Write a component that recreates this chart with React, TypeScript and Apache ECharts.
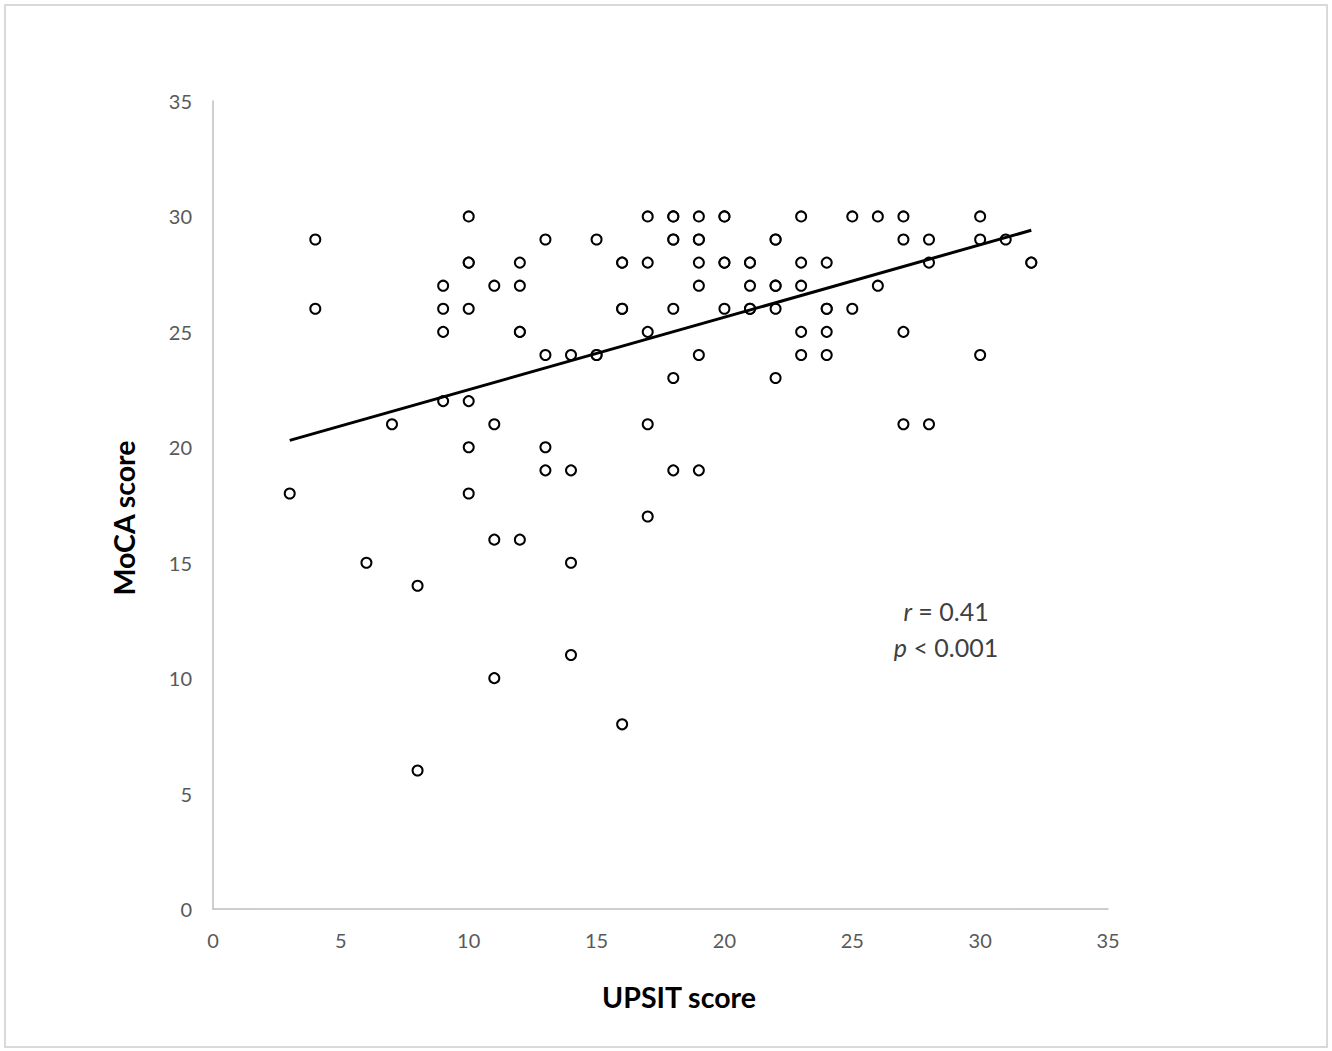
import React, { useEffect, useRef } from "react";
import * as echarts from "echarts";

// UPSIT score (x) vs MoCA score (y)
const upsit: number[] = [
  3, 4, 4, 6, 7, 8, 8,
  9, 9, 9, 9,
  10, 10, 10, 10, 10, 10, 10,
  11, 11, 11, 11,
  12, 12, 12, 12, 12,
  13, 13, 13, 13,
  14, 14, 14, 14,
  15, 15, 15,
  16, 16, 16, 16, 16,
  17, 17, 17, 17, 17,
  18, 18, 18, 18, 18, 18, 18,
  19, 19, 19, 19, 19, 19, 19,
  20, 20, 20, 20, 20,
  21, 21, 21, 21, 21,
  22, 22, 22, 22, 22, 22,
  23, 23, 23, 23, 23,
  24, 24, 24, 24, 24,
  25, 25,
  26, 26,
  27, 27, 27, 27,
  28, 28, 28,
  30, 30, 30,
  31,
  32, 32,
];
const moca: number[] = [
  18, 29, 26, 15, 21, 14, 6,
  27, 26, 25, 22,
  30, 28, 28, 26, 22, 20, 18,
  27, 21, 16, 10,
  28, 27, 25, 25, 16,
  29, 24, 20, 19,
  24, 19, 15, 11,
  29, 24, 24,
  28, 28, 26, 26, 8,
  30, 28, 25, 21, 17,
  30, 30, 29, 29, 26, 23, 19,
  30, 29, 29, 28, 27, 24, 19,
  30, 30, 28, 28, 26,
  28, 28, 27, 26, 26,
  29, 29, 27, 27, 26, 23,
  30, 28, 27, 25, 24,
  28, 26, 26, 25, 24,
  30, 26,
  30, 27,
  30, 29, 25, 21,
  29, 28, 21,
  30, 29, 24,
  29,
  28, 28,
];

// Trend line end points
const trendX: number[] = [3, 32];
const trendY: number[] = [20.3, 29.4];

const xTicks: number[] = [0, 5, 10, 15, 20, 25, 30, 35];
const yTicks: number[] = [0, 5, 10, 15, 20, 25, 30, 35];

const xTitle = "UPSIT score";
const yTitle = "MoCA score";
const statR = "0.41";
const statP = "0.001";

export default function App() {
  const ref = useRef<HTMLDivElement>(null);

  useEffect(() => {
    document.body.style.margin = "0";
    if (!ref.current) return;
    const chart = echarts.init(ref.current, undefined, { renderer: "svg" });
    const points = upsit.map((x, i) => [x, moca[i]]);
    const trend = trendX.map((x, i) => [x, trendY[i]]);
    const labelColor = "#595959";
    const font = "Lato, 'Open Sans', sans-serif";

    chart.setOption({
      animation: false,
      backgroundColor: "#ffffff",
      grid: { left: 213, top: 101, width: 895, height: 808, containLabel: false },
      xAxis: {
        type: "value",
        min: xTicks[0],
        max: xTicks[xTicks.length - 1],
        interval: 5,
        axisLine: { show: true, lineStyle: { color: "#bfbfbf", width: 1.5 } },
        axisTick: { show: false },
        splitLine: { show: false },
        axisLabel: { color: labelColor, fontSize: 20, fontFamily: font, margin: 21 },
      },
      yAxis: {
        type: "value",
        min: yTicks[0],
        max: yTicks[yTicks.length - 1],
        interval: 5,
        axisLine: { show: true, lineStyle: { color: "#bfbfbf", width: 1.5 } },
        axisTick: { show: false },
        splitLine: { show: false },
        axisLabel: { color: labelColor, fontSize: 20, fontFamily: font, margin: 21 },
      },
      series: [
        {
          type: "line",
          data: trend,
          symbol: "none",
          lineStyle: { color: "#000000", width: 3 },
          z: 3,
        },
        {
          type: "scatter",
          data: points,
          symbol: "circle",
          symbolSize: 10,
          itemStyle: { color: "#ffffff", borderColor: "#000000", borderWidth: 2, opacity: 1 },
          z: 2,
        },
      ],
      graphic: [
        {
          type: "rect",
          shape: { x: 5, y: 5, width: 1322, height: 1042 },
          style: { fill: "none", stroke: "#d9d9d9", lineWidth: 2 },
          silent: true,
        },
        {
          type: "text",
          x: 679,
          y: 997,
          style: {
            text: xTitle,
            fill: "#000000",
            font: `bold 28.5px ${font}`,
            textAlign: "center",
            textVerticalAlign: "middle",
          },
        },
        {
          type: "text",
          x: 124,
          y: 518,
          rotation: Math.PI / 2,
          style: {
            text: yTitle,
            fill: "#000000",
            font: `bold 28.5px ${font}`,
            textAlign: "center",
            textVerticalAlign: "middle",
          },
        },
        {
          type: "text",
          x: 946,
          y: 611,
          style: {
            text: `{i|r} = ${statR}`,
            fill: "#404040",
            font: `25px ${font}`,
            textAlign: "center",
            textVerticalAlign: "middle",
            rich: { i: { fontStyle: "italic", fontSize: 25, fontFamily: font, fill: "#404040" } },
          },
        },
        {
          type: "text",
          x: 946,
          y: 647,
          style: {
            text: `{i|p} < ${statP}`,
            fill: "#404040",
            font: `25px ${font}`,
            textAlign: "center",
            textVerticalAlign: "middle",
            rich: { i: { fontStyle: "italic", fontSize: 25, fontFamily: font, fill: "#404040" } },
          },
        },
      ],
    });

    return () => chart.dispose();
  }, []);

  return <div ref={ref} style={{ width: 1332, height: 1051 }} />;
}
